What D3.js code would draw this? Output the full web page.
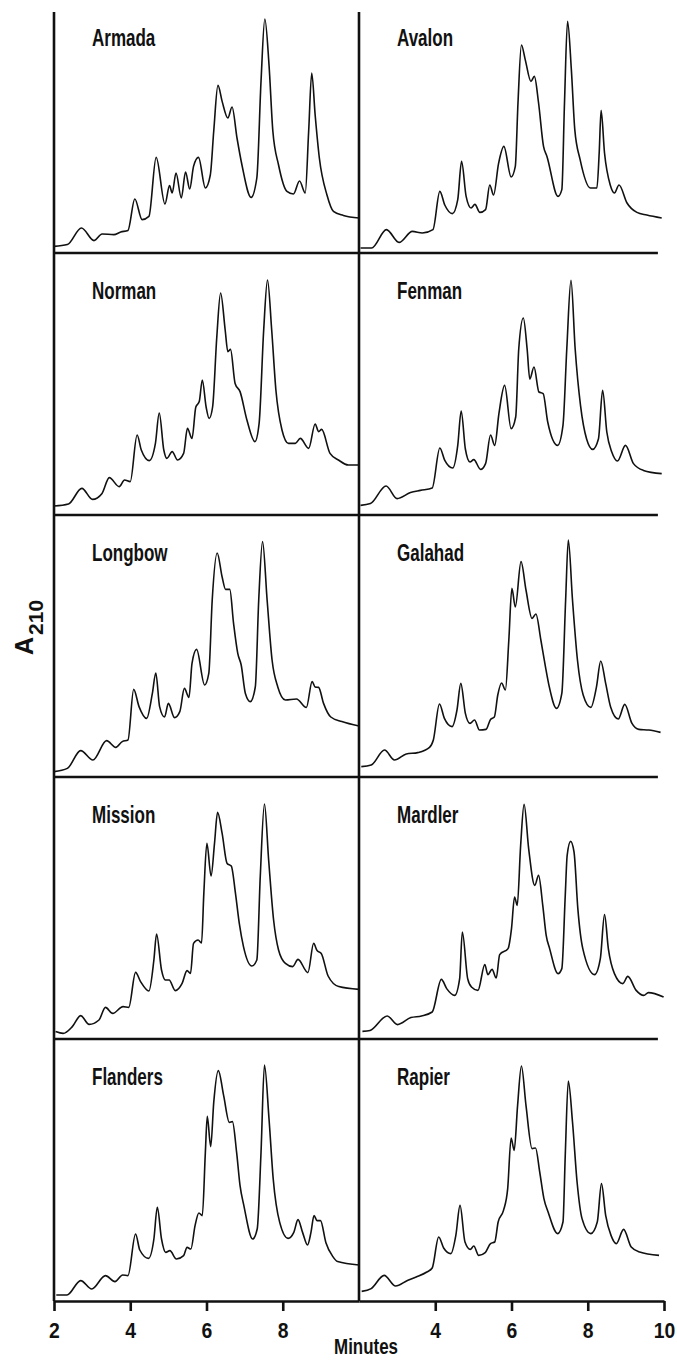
<!DOCTYPE html>
<html>
<head>
<meta charset="utf-8">
<script src="https://cdn.jsdelivr.net/npm/d3@7/dist/d3.min.js"></script>
<style>
	body { margin: 0; background: #fff; }
	svg { display: block; }
	.lbl { font-family: "Liberation Sans", Arial, sans-serif; font-weight: bold; fill: #111; }
	.trace { fill: none; stroke: #111; stroke-width: 1.6; stroke-linejoin: round; }
	.frame { stroke: #111; stroke-width: 2.6; fill: none; }
</style>
</head>
<body>
<div id="chart"></div>
<script>
// varieties, in reading order (left column, right column, top to bottom)
const varieties = ['Armada', 'Avalon', 'Norman', 'Fenman', 'Longbow', 'Galahad', 'Mission', 'Mardler', 'Flanders', 'Rapier'];

// [minutes, relative A210]
const armada = [[2.0,3.3],[2.35,4.2],[2.72,12.5],[3.05,6.2],[3.26,9.5],[3.57,9.2],[3.75,10.5],[3.94,11.3],[4.12,27],[4.31,16.7],[4.49,18.3],[4.68,47.8],[4.91,24.5],[5.03,33.7],[5.10,30],[5.20,40],[5.34,27.5],[5.45,40.5],[5.56,32],[5.66,43.3],[5.79,47.8],[5.97,32.5],[6.10,39],[6.19,61],[6.30,83.8],[6.41,75.8],[6.56,67.5],[6.67,73],[6.80,57.5],[6.93,44],[7.17,27.8],[7.32,37.5],[7.43,85.8],[7.53,117],[7.64,94],[7.74,61],[7.89,44],[8.11,30.8],[8.28,29.5],[8.44,36],[8.59,30],[8.68,61],[8.76,90],[8.85,69],[8.96,47.5],[9.16,29],[9.33,20.8],[9.59,18.8],[10.0,17.5]];
const avalon = [[2.04,2.5],[2.33,2.5],[2.72,11.7],[3.05,5.3],[3.40,10.8],[3.66,10],[3.94,11.7],[4.12,30.8],[4.25,24],[4.45,19.7],[4.59,26.7],[4.69,45.8],[4.81,28.3],[4.94,22.5],[5.04,24.3],[5.17,20.3],[5.32,21.7],[5.43,34],[5.53,29],[5.66,44.7],[5.80,53.3],[5.99,38],[6.10,43.3],[6.17,75],[6.26,104],[6.36,96.7],[6.51,85.8],[6.60,88.3],[6.71,75],[6.84,53.3],[6.93,48.3],[7.22,28.3],[7.32,31.7],[7.39,75],[7.47,115.8],[7.57,91.7],[7.66,61.7],[7.80,46.7],[8.07,32.5],[8.24,32.5],[8.30,50],[8.35,71.3],[8.44,50],[8.59,34],[8.70,30],[8.82,34],[9.03,25],[9.29,20.3],[9.55,19],[9.94,17.5]];
const norman = [[2.0,4.5],[2.38,5.5],[2.73,13.3],[3.01,7.8],[3.26,10.8],[3.45,18.7],[3.71,14.2],[3.85,17.5],[4.00,16.7],[4.18,40],[4.29,32.5],[4.50,27.2],[4.66,35.8],[4.76,51],[4.88,32.5],[4.96,28.3],[5.10,31.7],[5.24,27.5],[5.40,30.8],[5.50,43.3],[5.62,38.3],[5.72,54],[5.81,56.7],[5.89,67.5],[5.99,54],[6.07,48.3],[6.16,54],[6.27,89],[6.37,111],[6.49,92.5],[6.56,81.7],[6.63,82.8],[6.75,65.8],[6.88,61.7],[7.06,47.5],[7.27,36.7],[7.38,45.8],[7.50,92.5],[7.60,117.5],[7.71,92.5],[7.82,62.5],[7.98,42.5],[8.15,35.8],[8.33,35.8],[8.46,38.3],[8.68,33.3],[8.85,45.5],[8.94,41.7],[9.02,42.8],[9.24,30.8],[9.46,27.5],[9.72,25],[10.0,25]];
const fenman = [[2.04,4.8],[2.30,5.7],[2.71,14.5],[3.00,8.2],[3.35,11.2],[3.61,12.3],[3.92,13.5],[4.12,33.5],[4.25,27.3],[4.46,23.5],[4.59,34.8],[4.68,52],[4.79,33],[4.91,26.5],[5.01,27.7],[5.19,22.8],[5.32,25.7],[5.45,40],[5.56,34.8],[5.67,50.7],[5.82,64.8],[5.99,43.2],[6.11,49],[6.19,83],[6.31,98.5],[6.41,83],[6.48,68],[6.59,74],[6.72,61.5],[6.83,60.7],[6.95,46.5],[7.21,34.8],[7.35,44.8],[7.45,83],[7.56,117.3],[7.67,83],[7.81,54.8],[7.97,38],[8.13,32.8],[8.28,38],[8.39,62.3],[8.50,41.5],[8.63,31.5],[8.78,27],[8.99,34.8],[9.20,25.7],[9.46,22.3],[9.94,20.7]];
const longbow = [[2.0,2.7],[2.35,4.3],[2.70,13.2],[3.02,8.5],[3.38,18.2],[3.62,14.8],[3.79,17.7],[3.94,18.5],[4.09,43.8],[4.23,35.2],[4.43,29.3],[4.58,41.8],[4.67,52],[4.77,35.2],[4.90,30],[5.00,36.8],[5.16,29.7],[5.30,32.7],[5.42,44.3],[5.54,39.8],[5.62,56.8],[5.74,63.8],[5.95,46],[6.06,51.8],[6.15,88.5],[6.28,112],[6.41,100],[6.50,93.8],[6.61,93.8],[6.71,76.8],[6.82,61.8],[6.91,56],[7.02,41.8],[7.15,37.7],[7.28,45],[7.37,88.5],[7.47,117.7],[7.59,88.5],[7.72,58.5],[7.87,45],[8.07,38.5],[8.36,39],[8.62,34.8],[8.77,47.7],[8.85,45],[8.94,44.8],[9.07,36.8],[9.26,30],[9.55,27.7],[10.0,25.5]];
const galahad = [[2.06,5.2],[2.32,6],[2.67,13.5],[2.93,8.5],[3.24,11.5],[3.54,12.2],[3.85,14.8],[3.95,18.5],[4.11,36.5],[4.24,29.3],[4.44,25.2],[4.57,33.5],[4.67,46.8],[4.79,31.8],[4.91,26.8],[5.03,28.5],[5.16,23.5],[5.33,23.8],[5.45,28.8],[5.55,30],[5.64,41],[5.74,47],[5.84,43.5],[5.93,68.5],[6.01,94.3],[6.10,85],[6.25,107.7],[6.38,93.5],[6.54,79.3],[6.64,81.5],[6.77,68.5],[6.89,55.2],[6.99,45.2],[7.18,34.3],[7.32,41.8],[7.42,88.5],[7.49,118.5],[7.60,88.5],[7.73,58.5],[7.88,41],[8.08,34.8],[8.23,45.2],[8.34,58],[8.47,46.8],[8.60,35],[8.80,29],[8.97,36.3],[9.16,26.8],[9.34,23.8],[9.60,23.5],[9.91,22.3]];
const mission = [[2.04,3.7],[2.24,2.8],[2.48,6.2],[2.70,11.7],[2.92,7.3],[3.18,9.5],[3.35,15.8],[3.54,12.8],[3.81,16.2],[3.96,15.8],[4.14,33.3],[4.27,28.7],[4.49,24],[4.62,39.5],[4.69,52.5],[4.82,34.5],[4.92,29.5],[5.02,29.5],[5.18,24.2],[5.36,27.8],[5.49,34.2],[5.58,32.8],[5.66,47.8],[5.78,49.5],[5.87,48],[5.93,72.8],[6.01,97.8],[6.12,81.5],[6.21,97.8],[6.29,113.3],[6.41,102.8],[6.54,87.8],[6.65,86.5],[6.76,72.8],[6.86,57.8],[6.97,46.2],[7.19,36.5],[7.32,39.5],[7.41,81.2],[7.52,117.5],[7.63,89.5],[7.76,59.5],[7.89,44.5],[8.07,37.8],[8.26,36.2],[8.40,39.8],[8.66,33.2],[8.81,47.8],[8.90,44.2],[9.01,42.8],[9.19,31.5],[9.47,26.2],[10.0,24.8]];
const mardler = [[2.09,3.8],[2.29,4.3],[2.74,11.5],[3.01,7.2],[3.36,10.7],[3.64,11.5],[3.92,13.5],[4.16,29.8],[4.30,25.2],[4.51,21.8],[4.64,30.2],[4.71,53.5],[4.85,30.2],[4.95,26],[5.12,24.3],[5.30,37.2],[5.38,32.2],[5.49,34.8],[5.60,30.5],[5.69,42.2],[5.91,45.2],[6.00,55.2],[6.08,71],[6.15,66.8],[6.24,96.8],[6.33,117.3],[6.45,95.2],[6.61,76.8],[6.71,81.8],[6.82,66.8],[6.91,51.8],[7.00,45.2],[7.22,32.7],[7.32,35.2],[7.41,71.8],[7.46,91.8],[7.55,98.8],[7.64,93.5],[7.74,65.2],[7.87,45.2],[8.18,32.2],[8.33,40.2],[8.44,62.2],[8.54,45.2],[8.70,32.7],[8.92,27.7],[9.05,31.3],[9.27,24.3],[9.47,21.8],[9.59,23.2],[9.99,21]];
const flanders = [[2.06,3],[2.34,3],[2.70,10.2],[2.99,6],[3.35,12.7],[3.60,9.7],[3.80,13],[3.94,12.7],[4.14,33.5],[4.25,25.5],[4.48,21.3],[4.62,31],[4.71,46.8],[4.82,31],[4.93,24.3],[5.04,25.2],[5.21,21],[5.40,22.7],[5.49,26.8],[5.59,26],[5.70,37.7],[5.80,44],[5.89,42.7],[5.97,74.3],[6.02,92.3],[6.11,77.2],[6.19,99.3],[6.31,115.2],[6.45,102.7],[6.60,89.3],[6.68,89.7],[6.79,74.3],[6.88,57.7],[6.98,47.7],[7.21,31],[7.33,36],[7.43,74.3],[7.52,118],[7.64,91],[7.75,61],[7.92,39.3],[8.14,31.3],[8.29,34.3],[8.40,40.7],[8.52,34.3],[8.65,28],[8.74,34.3],[8.82,42.7],[8.90,40.2],[8.99,40.2],[9.13,29.3],[9.31,22.3],[9.44,19.7],[10.0,18]];
const rapier = [[2.07,4.8],[2.32,6.2],[2.66,12.8],[2.96,7.5],[3.27,10.3],[3.50,12],[3.78,14.5],[3.92,16.5],[4.09,32],[4.22,26.5],[4.41,23.7],[4.54,32.8],[4.65,47.8],[4.78,29.5],[4.92,25.8],[5.01,27.5],[5.14,22.8],[5.31,24.2],[5.45,28.7],[5.56,29.5],[5.65,39.5],[5.79,45.3],[5.90,56.2],[5.99,81.5],[6.07,75.3],[6.16,97.8],[6.26,117.5],[6.38,97.8],[6.54,76.2],[6.63,76.5],[6.74,64.5],[6.85,51.2],[6.96,44.5],[7.21,33.7],[7.35,39.5],[7.41,72.8],[7.49,110],[7.60,89.5],[7.72,59.5],[7.85,41.2],[8.08,33.7],[8.25,39.5],[8.36,58.7],[8.47,42.8],[8.61,32.8],[8.75,28.7],[8.94,35.8],[9.14,27],[9.36,24.5],[9.87,22.8]];

const traces = [armada, avalon, norman, fenman, longbow, galahad, mission, mardler, flanders, rapier];

// axis tick labels
const leftTicks = [2, 4, 6, 8];
const rightTicks = [4, 6, 8, 10];
const xDomain = [2, 10];
const yDomain = [0, 131];

// layout
const W = 677, H = 1361;
const colLeft = [54, 359];
const colW = 305;
const rowH = 262;
const firstBottom = 253;
const topY = 12;
const rowBottom = r => firstBottom + r * rowH;
const lastBottom = rowBottom(4);

// the original lettering is a condensed bold face: squeeze Liberation Sans Bold
const squeeze = (sel, x, y, sx) => sel.attr('transform', `translate(${x},${y}) scale(${sx},1)`);

const svg = d3.select('#chart')
	.append('svg')
	.attr('width', W)
	.attr('height', H)
	.attr('viewBox', [0, 0, W, H]);

const xScales = colLeft.map(c => d3.scaleLinear().domain(xDomain).range([c, c + colW]));

// traces
traces.forEach((data, i) => {
	const row = Math.floor(i / 2);
	const col = i % 2;
	const x = xScales[col];
	const bottom = rowBottom(row);
	const y = d3.scaleLinear().domain(yDomain).range([bottom, bottom - rowH]);

	svg.append('path')
		.datum(data)
		.attr('class', 'trace')
		.attr('d', d3.line()
			.x(d => x(d[0]))
			.y(d => y(d[1]))
			.curve(d3.curveMonotoneX));

	// variety name
	svg.append('text')
		.attr('class', 'lbl')
		.attr('font-size', 23)
		.call(squeeze, colLeft[col] + 38, row === 0 ? 46 : bottom - rowH + 46, 0.74)
		.text(varieties[i]);
});

// vertical frame lines
colLeft.forEach(c => {
	svg.append('line')
		.attr('class', 'frame')
		.attr('x1', c).attr('x2', c)
		.attr('y1', topY).attr('y2', lastBottom);
});

// separators between rows
for (let r = 0; r < 4; r++) {
	const yy = rowBottom(r);
	svg.append('line').attr('class', 'frame')
		.attr('x1', colLeft[0]).attr('x2', colLeft[1])
		.attr('y1', yy).attr('y2', yy);
	svg.append('line').attr('class', 'frame')
		.attr('x1', colLeft[1]).attr('x2', xScales[1](9.84))
		.attr('y1', yy).attr('y2', yy);
}

// bottom axes
const styleAxis = g => {
	g.attr('font-family', null).attr('font-size', null);
	g.select('.domain').attr('stroke', '#111').attr('stroke-width', 2.6);
	g.selectAll('.tick line').attr('stroke', '#111').attr('stroke-width', 2.6);
	g.selectAll('.tick text')
		.attr('class', 'lbl')
		.attr('font-size', 22)
		.attr('fill', '#111')
		.attr('transform', 'scale(0.88,1)');
};

svg.append('g')
	.attr('transform', `translate(0,${lastBottom})`)
	.call(d3.axisBottom(xScales[0]).tickValues(leftTicks).tickSize(10).tickSizeOuter(0).tickPadding(11).tickFormat(d3.format('d')))
	.call(styleAxis);

svg.append('g')
	.attr('transform', `translate(0,${lastBottom})`)
	.call(d3.axisBottom(xScales[1]).tickValues(rightTicks).tickSize(10).tickSizeOuter(0).tickPadding(11).tickFormat(d3.format('d')))
	.call(styleAxis);

// axis titles
svg.append('text')
	.attr('class', 'lbl')
	.attr('text-anchor', 'middle')
	.attr('font-size', 22)
	.call(squeeze, 366, 1354, 0.77)
	.text('Minutes');

const yTitle = svg.append('text')
	.attr('class', 'lbl')
	.attr('transform', 'translate(33,655) rotate(-90)')
	.attr('font-size', 25);
yTitle.append('tspan').text('A');
yTitle.append('tspan').attr('dx', 2).attr('dy', 10).attr('font-size', 21).text('210');
</script>
</body>
</html>
